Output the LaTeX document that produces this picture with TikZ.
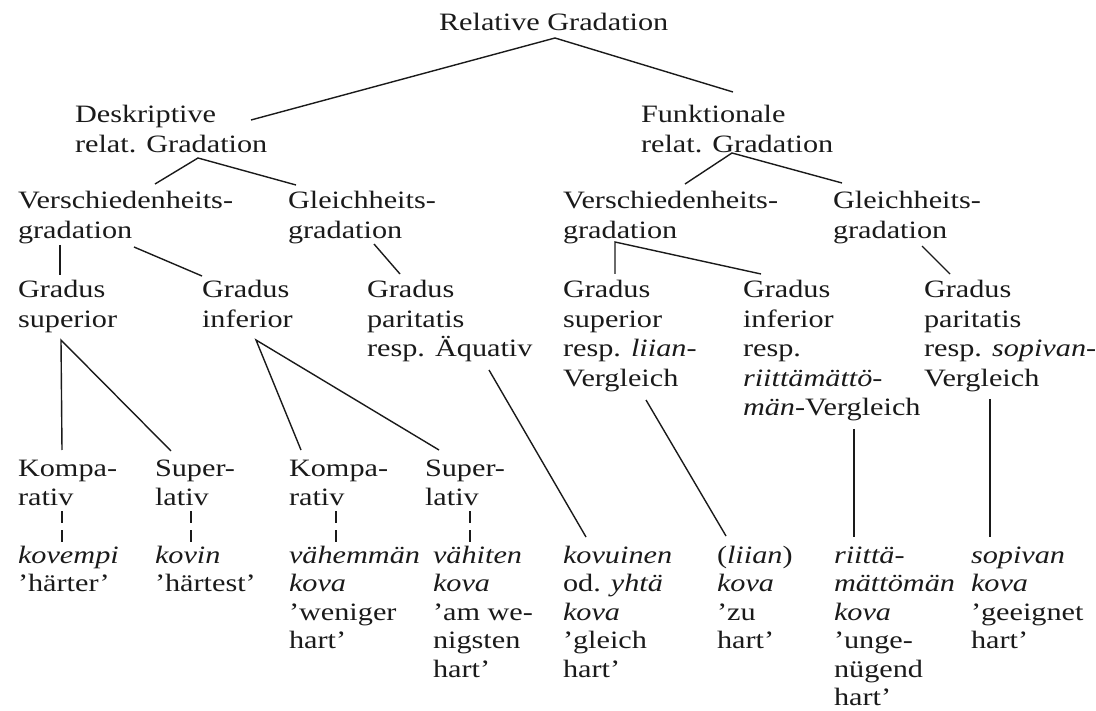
\documentclass[tikz,border=0pt]{standalone}
\usepackage{fontspec}
\setmainfont{Liberation Serif}[FakeStretch=1.21]
\definecolor{ink}{HTML}{1A1A1A}
\newcommand\blk[1]{\begin{tabular}[t]{@{}l@{}}#1\end{tabular}}
\begin{document}
\begin{tikzpicture}[x=1pt,y=-1pt,
  lbl/.style={anchor=base west,inner sep=0pt,outer sep=0pt,text=ink,font=\fontsize{25}{29.5}\selectfont},
  lblb/.style={lbl,font=\fontsize{25}{28.5}\selectfont},
  edge/.style={draw=ink,line width=1.4pt},
  dsh/.style={edge,dash pattern=on 12pt off 7pt}]
\useasboundingbox (0,0) rectangle (1096,711);
% ---- nodes
\node[lbl] (root) at (439,31) {Relative Gradation};
\node[lbl] (desk) at (75,123) {\blk{Deskriptive\\relat. Gradation}};
\node[lbl] (funk) at (641,123) {\blk{Funktionale\\relat. Gradation}};
\node[lbl] (vl) at (18,209) {\blk{Verschiedenheits-\\gradation}};
\node[lbl] (gl) at (288,209) {\blk{Gleichheits-\\gradation}};
\node[lbl] (vr) at (563,209) {\blk{Verschiedenheits-\\gradation}};
\node[lbl] (gr) at (833,209) {\blk{Gleichheits-\\gradation}};
\node[lbl] (gsup) at (18,298) {\blk{Gradus\\superior}};
\node[lbl] (ginf) at (202,298) {\blk{Gradus\\inferior}};
\node[lbl] (gpar) at (367,298) {\blk{Gradus\\paritatis\\resp. Äquativ}};
\node[lbl] (rsup) at (563,298) {\blk{Gradus\\superior\\resp. \textit{liian-}\\Vergleich}};
\node[lbl] (rinf) at (743,298) {\blk{Gradus\\inferior\\resp.\\\textit{riittämättö-}\\\textit{män}-Vergleich}};
\node[lbl] (rpar) at (924,298) {\blk{Gradus\\paritatis\\resp. \textit{sopivan-}\\Vergleich}};
\node[lbl] (k1) at (18,476) {\blk{Kompa-\\rativ}};
\node[lbl] (s1) at (155,476) {\blk{Super-\\lativ}};
\node[lbl] (k2) at (289,476) {\blk{Kompa-\\rativ}};
\node[lbl] (s2) at (425,476) {\blk{Super-\\lativ}};
\node[lblb] (e1) at (18,563) {\blk{\textit{kovempi}\\’härter’}};
\node[lblb] (e2) at (155,563) {\blk{\textit{kovin}\\’härtest’}};
\node[lblb] (e3) at (289,563) {\blk{\textit{vähemmän}\\\textit{kova}\\’weniger\\hart’}};
\node[lblb] (e4) at (433,563) {\blk{\textit{vähiten}\\\textit{kova}\\’am we-\\nigsten\\hart’}};
\node[lblb] (e5) at (563,563) {\blk{\textit{kovuinen}\\od. \textit{yhtä}\\\textit{kova}\\’gleich\\hart’}};
\node[lblb] (e6) at (717,563) {\blk{(\textit{liian})\\\textit{kova}\\’zu\\hart’}};
\node[lblb] (e7) at (834,563) {\blk{\textit{riittä-}\\\textit{mättömän}\\\textit{kova}\\’unge-\\nügend\\hart’}};
\node[lblb] (e8) at (971,563) {\blk{\textit{sopivan}\\\textit{kova}\\’geeignet\\hart’}};
% ---- connector end points
\coordinate (root-b) at (555,38);
\coordinate (desk-t) at (251,120);
\coordinate (funk-t) at (733,92);
\coordinate (desk-b) at (198,158);
\coordinate (vl-t) at (155,184);
\coordinate (gl-t) at (296,185);
\coordinate (funk-b) at (732,153);
\coordinate (vr-t) at (685,184);
\coordinate (gr-t) at (842,183);
\coordinate (vl-b1) at (60,245);
\coordinate (gsup-t) at (60,275);
\coordinate (vl-b2) at (134,247);
\coordinate (ginf-t) at (202,276);
\coordinate (gl-b) at (374,244);
\coordinate (gpar-t) at (400,274);
\coordinate (vr-b) at (615,242);
\coordinate (rsup-t) at (615,274);
\coordinate (rinf-t) at (761,274);
\coordinate (gr-b) at (922,246);
\coordinate (rpar-t) at (950,274);
\coordinate (gsup-b) at (61,340);
\coordinate (k1-t) at (62,450);
\coordinate (s1-t) at (171,451);
\coordinate (ginf-b) at (256,340);
\coordinate (k2-t) at (301,450);
\coordinate (s2-t) at (439,450);
\coordinate (gpar-b) at (489,370);
\coordinate (e5-t) at (586,537);
\coordinate (rsup-b) at (646,400);
\coordinate (e6-t) at (726,536);
\coordinate (rinf-b) at (854,429);
\coordinate (e7-t) at (854,537);
\coordinate (rpar-b) at (990,399);
\coordinate (e8-t) at (990,537);
\coordinate (k1-b) at (62,511);  \coordinate (e1-t) at (62,543);
\coordinate (s1-b) at (191,511); \coordinate (e2-t) at (191,543);
\coordinate (k2-b) at (336,511); \coordinate (e3-t) at (336,543);
\coordinate (s2-b) at (470,511); \coordinate (e4-t) at (470,543);
% ---- connectors
\draw[edge] (desk-t) -- (root-b) -- (funk-t);
\draw[edge] (vl-t) -- (desk-b) -- (gl-t);
\draw[edge] (vr-t) -- (funk-b) -- (gr-t);
\draw[edge] (vl-b1) -- (gsup-t);
\draw[edge] (vl-b2) -- (ginf-t);
\draw[edge] (gl-b) -- (gpar-t);
\draw[edge] (rsup-t) -- (vr-b) -- (rinf-t);
\draw[edge] (gr-b) -- (rpar-t);
\draw[edge] (k1-t) -- (gsup-b) -- (s1-t);
\draw[edge] (k2-t) -- (ginf-b) -- (s2-t);
\draw[edge] (gpar-b) -- (e5-t);
\draw[edge] (rsup-b) -- (e6-t);
\draw[edge] (rinf-b) -- (e7-t);
\draw[edge] (rpar-b) -- (e8-t);
\draw[dsh] (k1-b) -- (e1-t);
\draw[dsh] (s1-b) -- (e2-t);
\draw[dsh] (k2-b) -- (e3-t);
\draw[dsh] (s2-b) -- (e4-t);
\end{tikzpicture}
\end{document}
